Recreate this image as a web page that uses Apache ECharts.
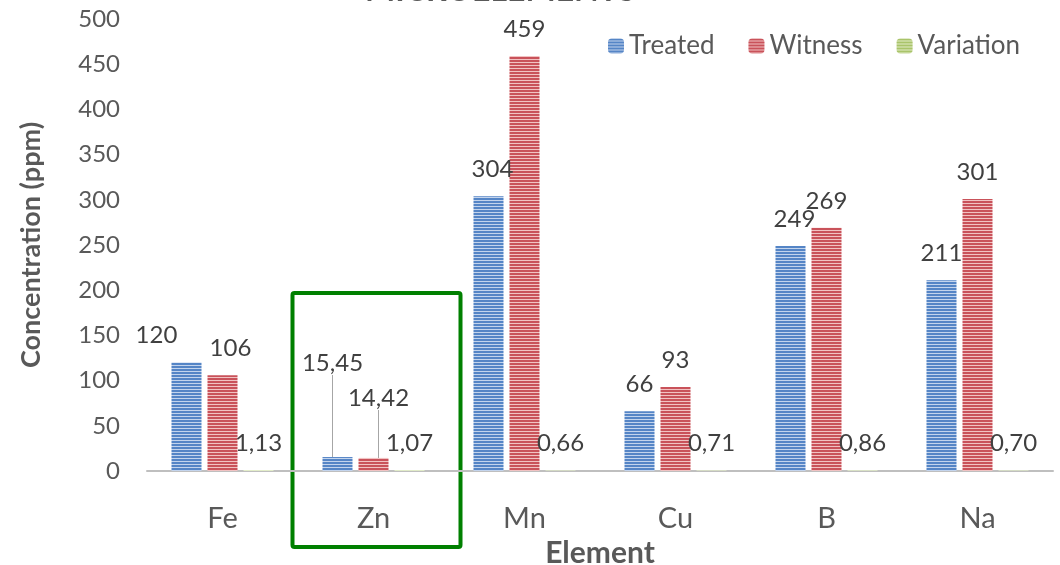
<!DOCTYPE html>
<html>
<head>
<meta charset="utf-8">
<script src="https://cdn.jsdelivr.net/npm/echarts@6/dist/echarts.min.js"></script>
<style>html,body{margin:0;padding:0;background:#fff}#c{width:1060px;height:565px}</style>
</head>
<body>
<div id="c"></div>
<script>
// ---- data ----
const categories = ['Fe', 'Zn', 'Mn', 'Cu', 'B', 'Na'];
const treated = [120, 15.45, 304, 66, 249, 211];
const witness = [106, 14.42, 459, 93, 269, 301];
const variation = [1.13, 1.07, 0.66, 0.71, 0.86, 0.70];
const seriesNames = ['Treated', 'Witness', 'Variation'];
const yTicks = { min: 0, max: 500, interval: 50 };

// ---- label adjustments (styling, not data) ----
const labelShift = {
  '0-0': [-30, 0], '1-0': [8, 0],
  '0-1': [-5, -67], '1-1': [5, -33],
  '0-2': [4, 0], '0-4': [4, 0]
};
const leaderLines = { '0-1': true, '1-1': true };

const FONT = 'Lato';
function stripes(dark, light) {
  const c = document.createElement('canvas');
  c.width = 4; c.height = 3;
  const g = c.getContext('2d');
  g.fillStyle = light; g.fillRect(0, 0, 4, 3);
  g.fillStyle = dark; g.fillRect(0, 0, 4, 2);
  return { image: c, repeat: 'repeat' };
}
const fills = [
  stripes('#5585c6', '#c3d4ed'),
  stripes('#c9525a', '#f1c2c2'),
  stripes('#a9c46a', '#e3edc9')
];
const fmt = v => Number.isInteger(v) ? String(v) : v.toFixed(2).replace('.', ',');

function mkSeries(idx, arr) {
  return {
    name: seriesNames[idx],
    type: 'bar',
    barWidth: 30,
    barGap: '20%',
    itemStyle: { color: fills[idx] },
    data: arr.map((v, i) => {
      const d = { value: v };
      if (leaderLines[idx + '-' + i]) d.labelLine = { show: true, lineStyle: { color: '#a6a6a6', width: 1 } };
      return d;
    }),
    label: {
      show: true, position: 'top', distance: 15,
      fontFamily: FONT, fontSize: 24, color: '#404040',
      formatter: p => fmt(p.value)
    },
    labelLayout: p => {
      const s = labelShift[p.seriesIndex + '-' + p.dataIndex];
      return s ? { dx: s[0], dy: s[1] } : {};
    }
  };
}

const chart = echarts.init(document.getElementById('c'));
chart.setOption({
  animation: false,
  grid: { left: 147, right: 7, top: 19, bottom: 94, outerBoundsMode: 'none', containLabel: false },
  legend: {
    data: seriesNames, left: 603, top: 28, itemWidth: 16, itemHeight: 15, itemGap: 34,
    textStyle: { fontFamily: FONT, fontSize: 26, color: '#595959' }
  },
  xAxis: {
    type: 'category', data: categories,
    axisLine: { lineStyle: { color: '#bfbfbf', width: 2 } },
    axisTick: { show: false },
    axisLabel: { fontFamily: FONT, fontSize: 29, color: '#595959', margin: 33 },
    name: 'Element', nameLocation: 'middle', nameGap: 67,
    nameTextStyle: { fontFamily: FONT, fontSize: 30, fontWeight: 'bold', color: '#595959' }
  },
  yAxis: {
    type: 'value', min: yTicks.min, max: yTicks.max, interval: yTicks.interval,
    axisLine: { show: false }, axisTick: { show: false }, splitLine: { show: false },
    axisLabel: { fontFamily: FONT, fontSize: 24, color: '#595959', margin: 27 },
    name: 'Concentration (ppm)', nameLocation: 'middle', nameRotate: 90, nameGap: 102,
    nameTextStyle: { fontFamily: FONT, fontSize: 27, fontWeight: 'bold', color: '#595959' }
  },
  series: [mkSeries(0, treated), mkSeries(1, witness), mkSeries(2, variation)]
});

const zx = chart.convertToPixel({ xAxisIndex: 0 }, 'Zn');
const y0 = chart.convertToPixel({ yAxisIndex: 0 }, 0);
const yTop = chart.convertToPixel({ yAxisIndex: 0 }, 197);
chart.setOption({
  graphic: [
    {
      type: 'text', left: 365, top: -25,
      style: { text: 'MICROELEMENTS', fill: '#595959', font: 'bold 32px ' + FONT }
    },
    {
      type: 'rect', silent: true,
      shape: { x: zx - 81, y: yTop, width: 168, height: (y0 + 76) - yTop, r: 2 },
      style: { fill: 'none', stroke: '#008000', lineWidth: 4 }
    }
  ]
});
</script>
</body>
</html>
